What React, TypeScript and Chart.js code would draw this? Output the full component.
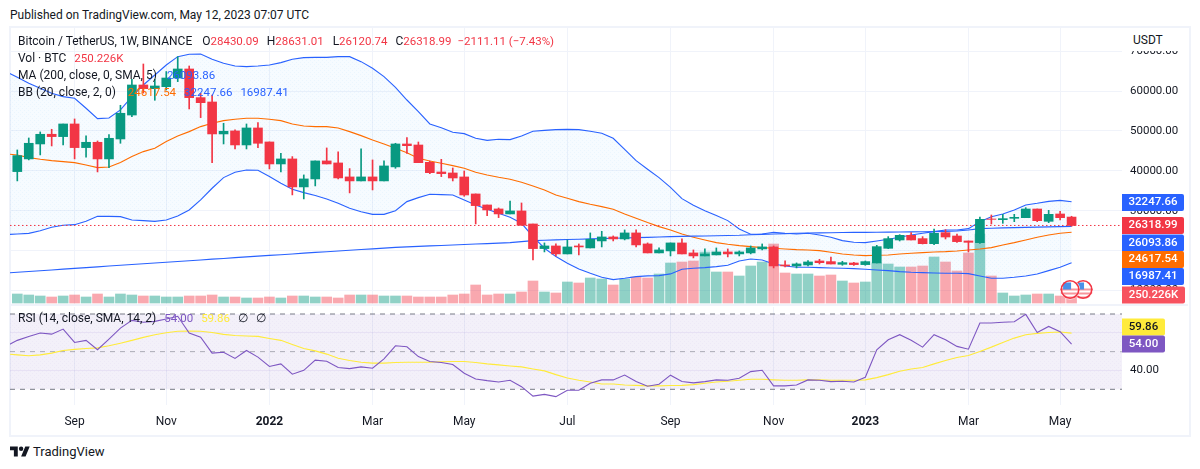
import React, { useEffect, useRef } from 'react';
import { Chart, registerables } from 'chart.js';

Chart.register(...registerables);

const FONT = 'Roboto, sans-serif';
const GREEN = '#089981';
const RED = '#f23645';
const BLUE = '#2962ff';
const ORANGE = '#ff6d00';
const GRID = '#f0f3fa';
const TEXT = '#131722';

// weekly bars, first one is Aug 2 2021
const opens = [39822, 42995, 46750, 49180, 48590, 51760, 45835, 47170, 42995, 48000, 54000, 61530, 60600, 61100, 63280, 65540, 58360, 57270, 49260, 50010, 46500, 50760, 47250, 41740, 42995, 35980, 37985, 42495, 41990, 38485, 37485, 38485, 37485, 41000, 46745, 46490, 42150, 39730, 39480, 38480, 34220, 31460, 30460, 29210, 29960, 26700, 20525, 21190, 19190, 21190, 20690, 22445, 23445, 22945, 24450, 21695, 19440, 19940, 21945, 19440, 18690, 18940, 19690, 19190, 19440, 20440, 20940, 16430, 16180, 16425, 17425, 17260, 16590, 16920, 16510, 16925, 20600, 22685, 23855, 23020, 21765, 24520, 23685, 22435, 22015, 27945, 27780, 28115, 28280, 30450, 27360, 29200, 28430.09];
const highs = [45250, 48250, 49760, 50430, 51760, 53015, 48760, 47500, 49090, 56440, 62950, 66790, 62950, 64900, 68630, 66290, 59430, 59030, 51930, 50260, 51760, 52100, 47250, 44415, 43580, 38990, 42495, 45750, 44750, 40575, 45500, 42745, 42495, 46920, 48330, 47240, 42485, 42900, 40730, 39980, 34220, 31460, 30710, 32465, 31960, 26700, 21945, 21690, 22695, 21690, 24450, 24865, 23700, 25200, 25200, 21945, 20690, 21945, 22945, 20190, 20440, 20690, 20440, 19940, 21190, 21690, 21190, 17435, 16930, 17510, 17845, 18425, 17340, 17090, 17425, 21350, 23520, 24020, 24520, 23520, 25440, 25270, 24190, 22435, 28445, 28950, 29115, 29115, 30785, 30450, 30115, 29865, 28631.01];
const lows = [37485, 42750, 44000, 46250, 46500, 43000, 43410, 39740, 40825, 46920, 53600, 59500, 57700, 60280, 62370, 55520, 53350, 42080, 46750, 45500, 45500, 45835, 40490, 39740, 33980, 32975, 36230, 41740, 37985, 34480, 37485, 35230, 37485, 40650, 44405, 42065, 39310, 38560, 37475, 33635, 26700, 28790, 28290, 29210, 26370, 17685, 19690, 18690, 19190, 18940, 20690, 20940, 22445, 22695, 20940, 19440, 19440, 18690, 19190, 18190, 18690, 18940, 18440, 18690, 19190, 20190, 15680, 15930, 15680, 16175, 16670, 16670, 16340, 16340, 16340, 16925, 20515, 22435, 22685, 21680, 21515, 22935, 22100, 19680, 21850, 26695, 26860, 27280, 28280, 27280, 27030, 27695, 26120.74];
const closes = [43830, 46920, 49175, 48590, 51760, 45835, 47170, 42995, 48170, 54435, 61530, 60600, 61280, 63280, 65540, 58360, 57100, 49260, 49925, 46500, 50760, 46920, 41740, 42995, 35980, 37985, 42495, 41740, 38235, 37485, 38485, 37485, 41240, 46750, 46325, 42065, 39560, 39310, 38225, 33960, 31300, 30210, 29210, 29960, 26370, 20525, 21190, 19190, 20940, 20940, 22860, 23445, 22945, 24450, 21445, 19440, 20190, 21945, 19190, 18690, 19190, 19690, 19190, 19690, 20690, 20940, 16180, 16180, 16680, 17175, 17005, 16670, 17005, 16510, 17260, 21015, 23020, 23855, 22685, 21765, 24355, 23430, 22270, 22100, 27860, 27860, 28030, 28365, 30450, 27530, 29115, 28280, 26318.99];
const volumes = [324, 288, 252, 216, 252, 288, 216, 324, 216, 324, 288, 252, 252, 216, 216, 252, 252, 288, 216, 216, 180, 180, 216, 180, 252, 252, 216, 216, 180, 288, 288, 288, 252, 252, 252, 216, 216, 216, 288, 324, 648, 288, 324, 324, 396, 792, 396, 360, 756, 720, 900, 864, 648, 864, 936, 900, 1044, 1440, 1476, 1512, 1836, 1116, 1116, 972, 1332, 1476, 2124, 1080, 1044, 1044, 972, 1008, 792, 720, 756, 1440, 1404, 1296, 1296, 1332, 1656, 1476, 1152, 1800, 2484, 972, 360, 252, 288, 324, 324, 252, 250.226];

// the indicator lines start one week earlier so they reach the left edge
const bbUpper = [64870, 63453, 61950, 60700, 59445, 58610, 58190, 55690, 53100, 53265, 55270, 58610, 61530, 64040, 66540, 68630, 69215, 69300, 67960, 66960, 66290, 66125, 66290, 66540, 67130, 67960, 68380, 68460, 68460, 68630, 68630, 67380, 65710, 63620, 60950, 57765, 54840, 51755, 50835, 49665, 49330, 48160, 47660, 47910, 47830, 48745, 49915, 50165, 50330, 50415, 50330, 49915, 49415, 48160, 45410, 42570, 40400, 38310, 35890, 33050, 31380, 30040, 28790, 27540, 25450, 24115, 24200, 24615, 24365, 24200, 24355, 23940, 23355, 22520, 22100, 22015, 22435, 22850, 23355, 23940, 24355, 24770, 25190, 25190, 25525, 27280, 28530, 29200, 30200, 31450, 31870, 32370, 32620, 32247.66];
const bbMiddle = [44250, 43997, 43330, 42910, 42580, 42330, 42080, 41490, 40825, 40990, 42080, 43580, 44830, 45670, 47340, 48760, 49840, 51095, 51930, 52600, 52930, 53180, 53180, 52930, 52600, 51760, 51260, 51095, 51095, 50760, 49840, 48840, 47755, 46750, 45670, 44570, 43150, 42485, 41900, 41315, 40650, 39645, 38980, 38395, 37890, 37140, 36220, 35220, 33970, 33130, 32295, 31630, 31045, 30375, 29210, 28120, 27040, 26035, 25200, 24200, 23365, 22695, 22030, 21610, 21275, 21025, 20775, 20610, 20440, 20275, 20180, 20015, 19600, 19180, 18930, 18760, 18845, 18930, 19180, 19350, 19510, 19680, 19760, 19930, 20180, 20430, 20765, 21430, 22015, 22685, 23355, 23940, 24355, 24617.54];
const bbLower = [24020, 24185, 24350, 25020, 25855, 26360, 26525, 27360, 28610, 28610, 28530, 27690, 27525, 27360, 27690, 28695, 30200, 32725, 35650, 38320, 39655, 40240, 40155, 38570, 36900, 35400, 34560, 33810, 32975, 31870, 30615, 29780, 29110, 29110, 30030, 32300, 33300, 34135, 34050, 33970, 32715, 31460, 30375, 29375, 28375, 26870, 23530, 20610, 18520, 16850, 15430, 14345, 13345, 12760, 13095, 13510, 13680, 13760, 14180, 15345, 15600, 15765, 16015, 16350, 17435, 17935, 17685, 16680, 16180, 15850, 15840, 15755, 15670, 15590, 15505, 15340, 15170, 15000, 14750, 14590, 14500, 14420, 14335, 14335, 14250, 13670, 13080, 13080, 13330, 13670, 14170, 15000, 15840, 16987.41];
const ma200 = [14415, 14610, 14800, 14985, 15180, 15370, 15560, 15750, 15950, 16150, 16340, 16540, 16730, 16930, 17120, 17310, 17480, 17680, 17880, 18060, 18260, 18440, 18630, 18820, 19000, 19190, 19380, 19570, 19750, 19930, 20110, 20290, 20460, 20640, 20840, 20960, 21080, 21200, 21310, 21430, 21540, 21660, 21780, 21900, 22020, 22280, 22530, 22620, 22700, 22790, 22870, 22950, 23030, 23110, 23180, 23270, 23350, 23440, 23530, 23590, 23640, 23700, 23760, 23820, 23865, 23980, 24080, 24180, 24270, 24365, 24420, 24470, 24510, 24550, 24580, 24600, 24620, 24650, 24680, 24710, 24740, 24770, 24850, 24950, 25180, 25525, 25640, 25720, 25790, 25850, 25900, 25960, 26020, 26093.86];
const rsi = [52.8, 56.0, 58.1, 59.9, 59.3, 62.0, 54.9, 56.0, 51.0, 56.7, 62.5, 66.6, 65.6, 66.1, 67.3, 68.8, 59.9, 57.7, 49.2, 49.7, 46.4, 50.6, 47.1, 42.1, 43.5, 38.0, 40.1, 45.5, 44.9, 41.6, 41.0, 41.9, 41.2, 46.2, 53.1, 52.6, 47.4, 44.8, 44.2, 43.2, 38.5, 35.5, 34.6, 33.9, 34.8, 31.4, 26.4, 27.3, 26.1, 29.5, 29.5, 33.2, 35.0, 35.0, 37.6, 34.1, 31.6, 32.7, 37.5, 34.1, 33.4, 34.1, 35.0, 34.8, 35.9, 39.4, 40.1, 31.8, 31.8, 32.3, 35.0, 34.8, 34.1, 34.3, 33.9, 36.4, 51.0, 56.3, 59.0, 56.0, 52.4, 59.0, 56.3, 52.8, 51.3, 65.2, 65.2, 65.6, 65.9, 69.8, 60.2, 63.4, 60.6, 54.0];
const rsiMa = [48.8, 48.3, 47.8, 48.3, 49.2, 50.6, 51.2, 51.7, 52.0, 53.1, 54.5, 56.0, 57.6, 59.0, 60.0, 60.8, 60.9, 60.8, 60.2, 59.2, 58.6, 58.3, 58.1, 57.0, 56.0, 53.8, 51.7, 50.4, 48.7, 46.5, 45.3, 44.4, 43.9, 43.9, 44.2, 44.4, 44.4, 44.4, 44.6, 44.8, 44.8, 44.2, 43.5, 43.0, 42.4, 41.9, 40.8, 39.8, 37.8, 36.0, 34.8, 33.9, 32.8, 32.8, 32.3, 32.1, 31.8, 31.8, 32.0, 32.1, 32.5, 33.2, 33.9, 34.3, 34.8, 35.3, 35.3, 35.0, 34.8, 34.8, 35.0, 35.0, 34.8, 34.8, 34.8, 35.0, 36.2, 37.8, 39.6, 40.8, 41.6, 43.5, 45.3, 46.9, 48.0, 50.1, 52.4, 54.9, 57.2, 59.0, 59.7, 60.2, 60.4, 59.86];

const timeTickIndex = [5, 13, 22, 31, 39, 48, 57, 66, 74, 83, 91];
const timeTickLabels = ['Sep', 'Nov', '2022', 'Mar', 'May', 'Jul', 'Sep', 'Nov', '2023', 'Mar', 'May'];
const priceTicks = [10000, 20000, 30000, 40000, 50000, 60000, 70000];
const rsiGridTicks = [40, 60];
const lastPrice = 26318.99;
const eventBars = [92, 93];

const X_MIN = -0.637;
const X_MAX = 96.4;
const AXIS_WIDTH = 66;

const candleColor = (i: number) => (closes[i] >= opens[i] ? GREEN : RED);
const lineData = (values: number[]) => values.map((y, i) => ({ x: i - 1, y }));
const flatLine = (y: number) => [{ x: X_MIN, y }, { x: X_MAX, y }];

function dotFill(r: number, g: number, b: number, base: number, dot: number) {
  const c = document.createElement('canvas');
  c.width = 4;
  c.height = 4;
  const ctx = c.getContext('2d') as CanvasRenderingContext2D;
  ctx.fillStyle = `rgba(${r},${g},${b},${base})`;
  ctx.fillRect(0, 0, 4, 4);
  ctx.fillStyle = `rgba(${r},${g},${b},${dot})`;
  ctx.fillRect(0, 0, 1, 1);
  ctx.fillRect(2, 2, 1, 1);
  return ctx.createPattern(c, 'repeat');
}

// axis padding would eat into the pane, panes here have fixed heights
const noPadding = (scale: any) => {
  scale.paddingTop = 0;
  scale.paddingBottom = 0;
  scale.paddingLeft = 0;
  scale.paddingRight = 0;
};

const timeAxis = (showLabels: boolean) => ({
  type: 'linear',
  min: X_MIN,
  max: X_MAX,
  offset: false,
  border: { display: false },
  grid: { color: GRID, offset: false, drawTicks: false },
  afterBuildTicks: (scale: any) => {
    scale.ticks = timeTickIndex.map((value) => ({ value }));
  },
  afterFit: (scale: any) => {
    scale.height = showLabels ? 29 : 0;
    noPadding(scale);
  },
  ticks: {
    display: showLabels,
    autoSkip: false,
    maxRotation: 0,
    padding: 10,
    color: TEXT,
    callback: (value: number) => timeTickLabels[timeTickIndex.indexOf(value)],
    font: (ctx: any) => ({
      family: FONT,
      size: 12,
      weight: ctx.tick && /^\d/.test(ctx.tick.label) ? 'bold' : 'normal',
    }),
  },
});

// the coloured boxes on the price axis, pushed apart like TradingView does it
const boxLabels = (id: string, boxes: any[]) => ({
  id,
  afterDraw(chart: any) {
    const { ctx, chartArea } = chart;
    ctx.save();
    ctx.font = `500 11.5px ${FONT}`;
    ctx.textBaseline = 'middle';
    ctx.textAlign = 'center';
    boxes.forEach((b) => {
      ctx.fillStyle = b.color;
      ctx.beginPath();
      ctx.roundRect(chartArea.right, b.y - 8.5, b.width, 17, [0, 2, 2, 0]);
      ctx.fill();
      ctx.fillStyle = b.textColor || '#ffffff';
      ctx.fillText(b.text, chartArea.right + b.width / 2, b.y);
    });
    ctx.restore();
  },
});

// small US flag event badges above the volume bars
const eventFlags = {
  id: 'eventFlags',
  afterDatasetsDraw(chart: any) {
    const { ctx, scales } = chart;
    const y = 261.5;
    [...eventBars].reverse().forEach((bar) => {
      const x = scales.x.getPixelForValue(bar) - (bar === eventBars[0] ? 1.5 : 0);
      ctx.save();
      ctx.beginPath();
      ctx.arc(x, y, 10, 0, Math.PI * 2);
      ctx.fillStyle = '#ffffff';
      ctx.fill();
      ctx.clip();
      ctx.fillStyle = '#f7959c';
      [-1, 3, 7].forEach((dy) => ctx.fillRect(x - 10, y + dy, 20, 2));
      ctx.fillStyle = '#4a90e8';
      ctx.fillRect(x - 7, y - 7, 8, 7);
      ctx.restore();
      ctx.beginPath();
      ctx.arc(x, y, 8.7, 0, Math.PI * 2);
      ctx.strokeStyle = RED;
      ctx.lineWidth = 1.6;
      ctx.stroke();
    });
  },
};

const S = ({ c, children, ml }: any) => <span style={{ color: c, marginLeft: ml }}>{children}</span>;
const V = ({ c, children, ml }: any) => <span style={{ color: c, marginLeft: ml, fontSize: 11.5 }}>{children}</span>;

const legendRow = (top: number): React.CSSProperties => ({
  position: 'absolute',
  left: 18,
  top,
  fontFamily: FONT,
  fontSize: 12,
  lineHeight: '17px',
  color: TEXT,
  whiteSpace: 'nowrap',
});

export default function App() {
  const priceRef = useRef<HTMLCanvasElement>(null);
  const rsiRef = useRef<HTMLCanvasElement>(null);

  useEffect(() => {
    const bars = opens.map((_, i) => i);
    const priceChart = new Chart(priceRef.current as HTMLCanvasElement, {
      type: 'bar',
      data: {
        datasets: [
          {
            label: 'Volume',
            yAxisID: 'volume',
            data: bars.map((i) => ({ x: i, y: volumes[i] })),
            backgroundColor: bars.map((i) => (candleColor(i) === GREEN ? 'rgba(8,153,129,0.45)' : 'rgba(242,54,69,0.43)')),
            maxBarThickness: 10,
            grouped: false,
            barPercentage: 1,
            categoryPercentage: 1,
            order: 7,
          },
          {
            type: 'line',
            label: 'BB upper',
            data: lineData(bbUpper),
            borderColor: BLUE,
            borderWidth: 1.1,
            pointRadius: 0,
            backgroundColor: dotFill(33, 150, 243, 0.04, 0.05),
            fill: { target: 2 },
            order: 6,
          },
          {
            type: 'line',
            label: 'BB lower',
            data: lineData(bbLower),
            borderColor: BLUE,
            borderWidth: 1.1,
            pointRadius: 0,
            order: 5,
          },
          {
            type: 'line',
            label: 'BB basis',
            data: lineData(bbMiddle),
            borderColor: ORANGE,
            borderWidth: 1.1,
            pointRadius: 0,
            order: 4,
          },
          {
            type: 'line',
            label: 'MA 200',
            data: lineData(ma200),
            borderColor: BLUE,
            borderWidth: 1.1,
            pointRadius: 0,
            order: 3,
          },
          {
            type: 'line',
            label: 'Last price',
            data: flatLine(lastPrice),
            borderColor: RED,
            borderWidth: 1,
            borderDash: [1.5, 2.5],
            pointRadius: 0,
            order: 2,
          },
          {
            label: 'Wicks',
            data: bars.map((i) => ({ x: i, y: [lows[i], highs[i]] })),
            backgroundColor: bars.map(candleColor),
            maxBarThickness: 1,
            grouped: false,
            barPercentage: 1,
            categoryPercentage: 1,
            order: 1,
          },
          {
            label: 'Bodies',
            data: bars.map((i) => ({ x: i, y: [opens[i], closes[i]] })),
            backgroundColor: bars.map(candleColor),
            maxBarThickness: 9,
            grouped: false,
            barPercentage: 1,
            categoryPercentage: 1,
            order: 0,
          },
        ] as any,
      },
      options: {
        animation: false,
        responsive: false,
        layout: { padding: 0 },
        plugins: { legend: { display: false }, tooltip: { enabled: false } },
        scales: {
          x: timeAxis(false),
          y: {
            type: 'linear',
            position: 'right',
            min: 6390,
            max: 75810,
            border: { display: false },
            grid: { color: GRID, drawTicks: false },
            afterBuildTicks: (scale: any) => {
              scale.ticks = priceTicks.map((value) => ({ value }));
            },
            afterFit: (scale: any) => {
              scale.width = AXIS_WIDTH;
              noPadding(scale);
            },
            ticks: {
              padding: 8,
              crossAlign: 'near',
              color: TEXT,
              font: { family: FONT, size: 11.5 },
              callback: (value: number) => value.toFixed(2),
            },
          },
          volume: {
            type: 'linear',
            axis: 'y',
            display: false,
            min: -72,
            max: 9900,
            grid: { display: false },
            afterFit: noPadding,
          },
        } as any,
      },
      plugins: [
        eventFlags,
        boxLabels('priceBoxes', [
          { text: '32247.66', color: BLUE, y: 174.5, width: 62 },
          { text: '26318.99', color: RED, y: 197.5, width: 62 },
          { text: '26093.86', color: BLUE, y: 215, width: 62 },
          { text: '24617.54', color: ORANGE, y: 231.5, width: 62 },
          { text: '16987.41', color: BLUE, y: 248.5, width: 62 },
          { text: '250.226K', color: '#f7525f', y: 267, width: 63 },
        ]),
      ],
    });

    const rsiChart = new Chart(rsiRef.current as HTMLCanvasElement, {
      type: 'line',
      data: {
        datasets: [
          {
            label: 'RSI upper',
            data: flatLine(70),
            borderColor: '#787b86',
            borderWidth: 1,
            borderDash: [5, 5],
            pointRadius: 0,
            backgroundColor: dotFill(126, 87, 194, 0.09, 0.04),
            fill: { target: 1 },
            order: 5,
          },
          {
            label: 'RSI lower',
            data: flatLine(30),
            borderColor: '#787b86',
            borderWidth: 1,
            borderDash: [5, 5],
            pointRadius: 0,
            order: 4,
          },
          {
            label: 'RSI middle',
            data: flatLine(50),
            borderColor: 'rgba(120,123,134,0.6)',
            borderWidth: 1,
            borderDash: [5, 5],
            pointRadius: 0,
            order: 3,
          },
          {
            label: 'RSI MA',
            data: lineData(rsiMa),
            borderColor: '#ffeb3b',
            borderWidth: 1.1,
            pointRadius: 0,
            order: 2,
          },
          {
            label: 'RSI',
            data: lineData(rsi),
            borderColor: '#7e57c2',
            borderWidth: 1.1,
            pointRadius: 0,
            order: 1,
          },
        ] as any,
      },
      options: {
        animation: false,
        responsive: false,
        layout: { padding: 0 },
        plugins: { legend: { display: false }, tooltip: { enabled: false } },
        scales: {
          x: timeAxis(true),
          y: {
            type: 'linear',
            position: 'right',
            min: 21.66,
            max: 73.72,
            border: { display: false },
            grid: { color: 'rgba(126,87,194,0.1)', drawTicks: false },
            afterBuildTicks: (scale: any) => {
              scale.ticks = rsiGridTicks.map((value) => ({ value }));
            },
            afterFit: (scale: any) => {
              scale.width = AXIS_WIDTH;
              noPadding(scale);
            },
            ticks: {
              padding: 8,
              crossAlign: 'near',
              color: TEXT,
              font: { family: FONT, size: 11.5 },
              callback: (value: number) => (value === 40 ? value.toFixed(2) : ''),
            },
          },
        } as any,
      },
      plugins: [
        boxLabels('rsiBoxes', [
          { text: '59.86', color: '#ffeb3b', textColor: TEXT, y: 20, width: 43 },
          { text: '54.00', color: '#7e57c2', y: 37, width: 43 },
        ]),
      ],
    });

    return () => {
      priceChart.destroy();
      rsiChart.destroy();
    };
  }, []);

  return (
    <div style={{ position: 'absolute', left: 0, top: 0, width: 1200, height: 469, background: '#ffffff', overflow: 'hidden' }}>
      <div style={{ position: 'absolute', left: 10, top: 7, fontFamily: FONT, fontSize: 12, lineHeight: '16px', color: TEXT, whiteSpace: 'nowrap' }}>
        Published on TradingView.com, May 12, 2023 07:07 UTC
      </div>
      <div style={{ position: 'absolute', left: 9, top: 26, width: 1178, height: 407, border: `2px solid ${GRID}` }} />
      <canvas ref={priceRef} width={1178} height={277} style={{ position: 'absolute', left: 10, top: 28, display: 'block' }} />
      <div style={{ position: 'absolute', left: 10, top: 304, width: 1178, height: 2, background: GRID }} />
      <canvas ref={rsiRef} width={1178} height={127} style={{ position: 'absolute', left: 10, top: 307, display: 'block' }} />

      <div style={{ position: 'absolute', left: 1123, top: 28, width: 64, height: 23, background: '#ffffff', fontFamily: FONT, fontSize: 12, lineHeight: '24px', color: TEXT, paddingLeft: 10, boxSizing: 'border-box' }}>
        USDT
      </div>

      <div style={legendRow(33)}>
        Bitcoin / TetherUS, 1W, BINANCE
        <S ml={10}>O</S><V c={RED}>28430.09</V>
        <S ml={8}>H</S><V c={RED}>28631.01</V>
        <S ml={9}>L</S><V c={RED}>26120.74</V>
        <S ml={8}>C</S><V c={RED}>26318.99</V>
        <V c={RED} ml={6}>−2111.11 (−7.43%)</V>
      </div>
      <div style={legendRow(50)}>
        Vol · BTC<V c={RED} ml={8}>250.226K</V>
      </div>
      <div style={legendRow(67)}>
        MA (200, close, 0, SMA, 5)<V c={BLUE} ml={10}>26093.86</V>
      </div>
      <div style={legendRow(84)}>
        BB (20, close, 2, 0)<V c={ORANGE} ml={12}>24617.54</V>
        <V c={BLUE} ml={8}>32247.66</V>
        <V c={BLUE} ml={8}>16987.41</V>
      </div>
      <div style={legendRow(310)}>
        RSI (14, close, SMA, 14, 2)<V c="#7e57c2" ml={8}>54.00</V>
        <V c="#ffeb3b" ml={8}>59.86</V>
        <S ml={8}>∅</S>
        <S ml={8}>∅</S>
      </div>

      <svg width="20" height="16" viewBox="0 0 36 28" style={{ position: 'absolute', left: 10, top: 444 }}>
        <path d="M14 22H7V11H0V4h14v18zM28 22h-8l7.5-18h8L28 22z" fill={TEXT} />
        <circle cx="20" cy="8" r="4" fill={TEXT} />
      </svg>
      <div style={{ position: 'absolute', left: 33, top: 443, fontFamily: FONT, fontSize: 13, lineHeight: '18px', color: TEXT, whiteSpace: 'nowrap' }}>
        TradingView
      </div>
    </div>
  );
}
